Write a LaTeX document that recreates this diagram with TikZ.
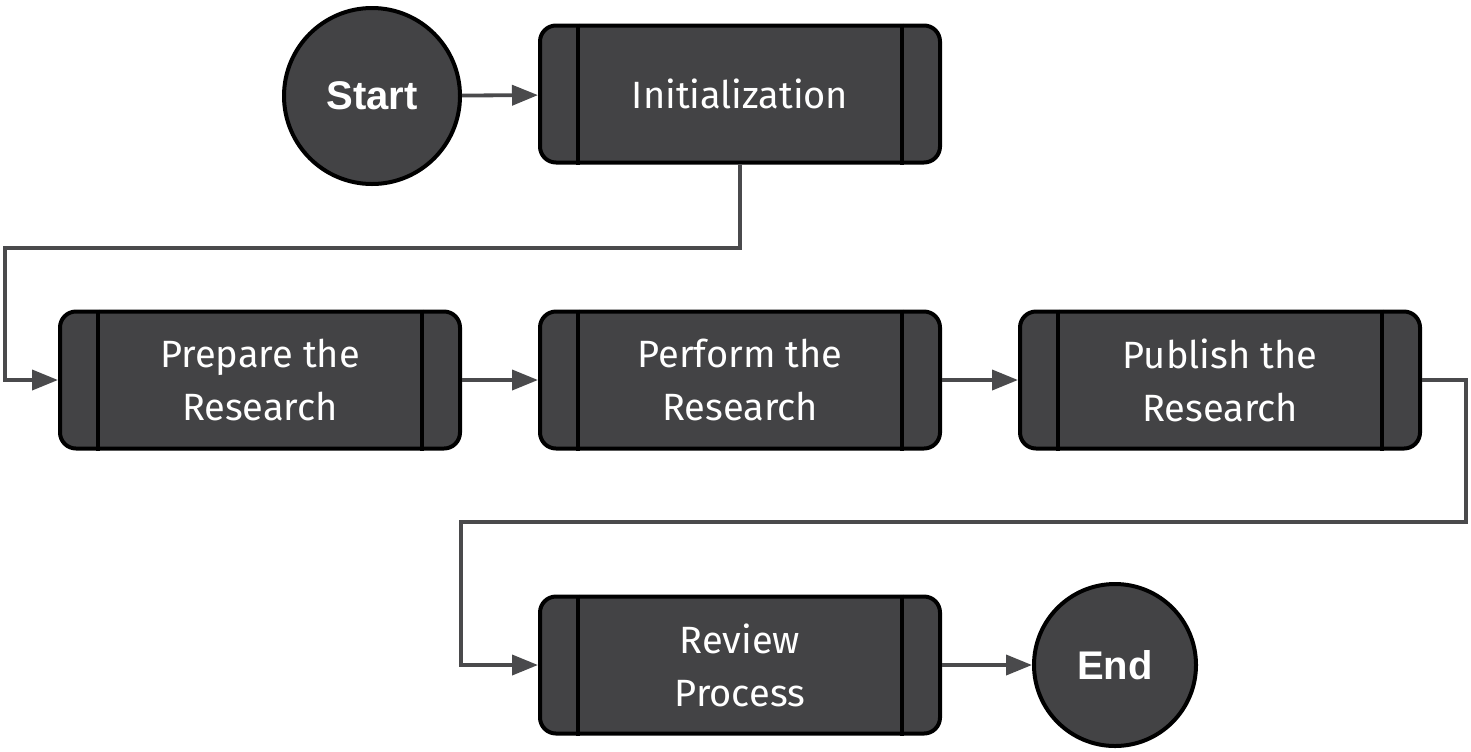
\documentclass[tikz,border=0pt]{standalone}
\usepackage{fontspec}
\setmainfont{Fira Sans}
\newfontfamily\termfont{Liberation Sans}
\usetikzlibrary{arrows.meta}
\definecolor{boxfill}{HTML}{434345}
\definecolor{conn}{HTML}{4A4A4C}
\tikzset{
  x=0.5pt, y=-0.5pt,
  procbox/.style={draw=black, line width=2pt, fill=boxfill, rounded corners=8pt,
    minimum width=200pt, minimum height=68.5pt, text=white, align=center,
    font=\fontsize{19}{26.5}\selectfont, inner sep=0pt},
  term/.style={draw=black, line width=2pt, fill=boxfill, circle, text=white,
    font=\termfont\bfseries\fontsize{20}{24}\selectfont, inner sep=0pt},
  bar/.style={draw=black, line width=2pt},
  conn/.style={draw=conn, line width=1.9pt, -{Triangle[length=13pt,width=10pt]}},
}
\newcommand{\bars}[1]{%
  \draw[bar] ([xshift=20pt]#1.north west) -- ([xshift=20pt]#1.south west);
  \draw[bar] ([xshift=-20pt]#1.north east) -- ([xshift=-20pt]#1.south east);}
\begin{document}
\begin{tikzpicture}
\useasboundingbox (0,0) rectangle (1471,751);
\node[term, minimum size=88pt] (start) at (372,96) {Start};
\node[procbox] (init) at (740,94) {Initialization};
\node[procbox] (prep) at (260,380) {Prepare the\\Research};
\node[procbox] (perf) at (740,380) {Perform the\\Research};
\node[procbox] (pub) at (1220,380) {Publish the\\Research};
\node[procbox] (rev) at (740,665) {Review\\Process};
\node[term, minimum size=81pt] (end) at (1115,665) {End};
\bars{init}\bars{prep}\bars{perf}\bars{pub}\bars{rev}
\coordinate (a1) at (5,248);
\coordinate (b1) at (1466,522);
\coordinate (b2) at (461,522);
\draw[conn] (start) -- (init);
\draw[conn] (init.south) |- (a1) |- (prep.west);
\draw[conn] (prep) -- (perf);
\draw[conn] (perf) -- (pub);
\draw[conn] (pub.east) -| (b1) -- (b2) |- (rev.west);
\draw[conn] (rev) -- (end);
\end{tikzpicture}
\end{document}
